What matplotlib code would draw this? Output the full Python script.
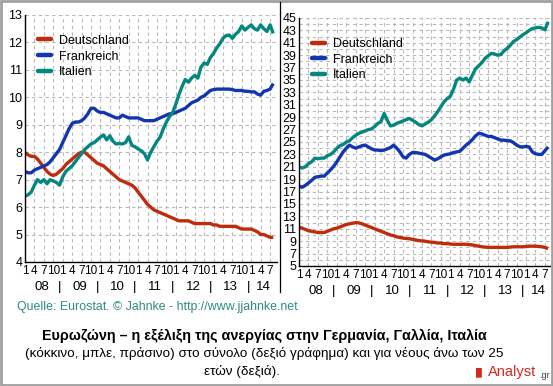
import matplotlib
matplotlib.use("Agg")
import matplotlib.pyplot as plt
from matplotlib.lines import Line2D
import matplotlib.transforms as mtransforms

plt.rcParams['font.family'] = ['Liberation Sans', 'DejaVu Sans']

series_names = ["Deutschland", "Frankreich", "Italien"]
colors = ["#BE2C0C", "#1236B0", "#03877E"]

# monthly values, Jan 2008 .. Aug 2014 (total unemployment, %)
de_total = [8.0, 7.9, 7.85, 7.85, 7.75, 7.6, 7.45, 7.3, 7.2, 7.15, 7.2, 7.3,
            7.4, 7.55, 7.65, 7.75, 7.85, 7.95, 8.0, 8.0, 7.9, 7.8, 7.7, 7.6,
            7.55, 7.5, 7.4, 7.3, 7.2, 7.1, 7.0, 6.95, 6.9, 6.85, 6.8, 6.7,
            6.55, 6.4, 6.25, 6.1, 6.0, 5.9, 5.85, 5.8, 5.75, 5.7, 5.65, 5.6,
            5.55, 5.5, 5.5, 5.5, 5.5, 5.45, 5.4, 5.4, 5.4, 5.4, 5.4, 5.4,
            5.35, 5.35, 5.3, 5.3, 5.3, 5.3, 5.3, 5.3, 5.25, 5.2, 5.2, 5.2,
            5.2, 5.15, 5.1, 5.0, 5.0, 4.95, 4.9, 4.9]
fr_total = [7.3, 7.25, 7.25, 7.35, 7.4, 7.45, 7.5, 7.55, 7.65, 7.8, 7.95, 8.1,
            8.35, 8.6, 8.85, 9.05, 9.1, 9.1, 9.15, 9.25, 9.4, 9.6, 9.6, 9.5,
            9.45, 9.45, 9.4, 9.35, 9.3, 9.25, 9.25, 9.35, 9.3, 9.25, 9.25, 9.25,
            9.25, 9.2, 9.15, 9.15, 9.15, 9.15, 9.2, 9.25, 9.3, 9.35, 9.4, 9.4,
            9.45, 9.5, 9.55, 9.6, 9.7, 9.8, 9.85, 9.9, 10.0, 10.05, 10.15, 10.25,
            10.28, 10.3, 10.3, 10.3, 10.3, 10.3, 10.28, 10.25, 10.25, 10.25, 10.22, 10.22,
            10.2, 10.2, 10.12, 10.08, 10.22, 10.25, 10.3, 10.5]
it_total = [6.4, 6.45, 6.55, 6.8, 7.0, 6.9, 7.0, 6.85, 7.0, 6.95, 6.9, 6.8,
            7.1, 7.3, 7.4, 7.5, 7.65, 7.8, 7.95, 8.1, 8.2, 8.3, 8.35, 8.45,
            8.55, 8.63, 8.45, 8.6, 8.4, 8.3, 8.32, 8.3, 8.35, 8.56, 8.25, 8.2,
            8.12, 8.05, 7.95, 7.72, 8.0, 8.2, 8.4, 8.55, 8.85, 9.1, 9.3, 9.45,
            9.75, 10.1, 10.4, 10.65, 10.55, 10.7, 10.8, 10.7, 11.1, 11.25, 11.2, 11.45,
            11.6, 11.8, 11.95, 12.15, 12.25, 12.27, 12.15, 12.3, 12.4, 12.6, 12.45, 12.55,
            12.64, 12.5, 12.45, 12.64, 12.5, 12.4, 12.64, 12.33]

# youth unemployment, %
de_youth = [11.3, 11.1, 10.9, 10.7, 10.6, 10.5, 10.4, 10.4, 10.4, 10.6, 10.8, 11.0,
            11.1, 11.3, 11.5, 11.7, 11.8, 11.9, 12.0, 11.95, 11.8, 11.6, 11.4, 11.2,
            11.0, 10.8, 10.6, 10.4, 10.2, 10.0, 9.9, 9.7, 9.6, 9.5, 9.45, 9.4,
            9.3, 9.2, 9.1, 9.05, 9.0, 8.9, 8.85, 8.8, 8.7, 8.7, 8.6, 8.6,
            8.55, 8.5, 8.5, 8.5, 8.5, 8.5, 8.45, 8.4, 8.3, 8.2, 8.1, 8.05,
            8.0, 8.0, 8.0, 8.0, 8.0, 8.0, 8.0, 8.05, 8.1, 8.1, 8.1, 8.1,
            8.15, 8.2, 8.2, 8.2, 8.15, 8.1, 8.0, 7.8]
fr_youth = [17.9, 17.7, 18.0, 18.4, 18.8, 19.3, 19.4, 19.5, 19.5, 20.0, 20.5, 21.1,
            21.8, 22.6, 23.4, 24.0, 24.5, 24.2, 24.0, 24.2, 24.4, 24.5, 24.2, 23.9,
            23.7, 23.7, 23.6, 23.7, 23.9, 24.1, 24.5, 24.0, 23.4, 22.6, 22.4, 23.0,
            23.3, 23.3, 23.2, 23.1, 23.0, 22.7, 22.4, 22.1, 22.3, 22.6, 22.9, 23.0,
            23.1, 23.3, 23.4, 23.5, 24.0, 24.5, 24.9, 25.4, 26.0, 26.4, 26.3, 26.1,
            25.9, 25.9, 25.7, 25.5, 25.3, 25.3, 25.2, 25.2, 24.9, 24.5, 24.25, 24.2,
            24.3, 24.2, 23.4, 23.1, 23.0, 23.0, 23.6, 24.2]
it_youth = [21.0, 20.8, 21.0, 21.5, 21.8, 22.4, 22.3, 22.4, 22.4, 22.8, 23.0, 23.4,
            24.0, 24.4, 24.6, 25.0, 25.2, 25.7, 26.1, 26.4, 26.6, 26.8, 27.0, 27.1,
            27.5, 28.0, 28.3, 29.6, 28.5, 27.6, 27.7, 28.0, 28.2, 28.4, 28.6, 28.8,
            28.5, 28.2, 27.8, 27.6, 27.9, 28.2, 28.6, 29.2, 29.9, 30.7, 31.5, 32.0,
            32.4, 33.5, 35.0, 35.3, 35.0, 35.3, 34.7, 35.8, 36.8, 37.3, 37.8, 38.5,
            38.9, 39.3, 39.2, 39.0, 39.1, 39.7, 40.1, 40.6, 41.2, 41.5, 41.9, 42.3,
            42.6, 43.0, 43.3, 43.4, 43.5, 43.4, 43.1, 44.4]

month_labels = ["1", "4", "7", "10"]
year_labels = ["08", "09", "10", "11", "12", "13", "14"]

months = list(range(len(de_total)))

W, H = 553, 386
fig = plt.figure(figsize=(W / 100, H / 100), dpi=100)
fig.patch.set_facecolor("white")

def box(l, t, r, b):
    return [l / W, 1 - b / H, (r - l) / W, (b - t) / H]

ax1 = fig.add_axes(box(25, 15, 277, 262))
ax2 = fig.add_axes(box(299, 18, 550, 266))

grid_color = "#B8B8B8"

def style(ax, ylim, major, minor, xmax):
    ax.set_xlim(0, xmax)
    ax.set_ylim(*ylim)
    for s in ["top", "right"]:
        ax.spines[s].set_visible(False)
    for s in ["left", "bottom"]:
        ax.spines[s].set_color("black")
        ax.spines[s].set_linewidth(1.0)
    ax.set_yticks(major)
    ax.set_yticks(minor, minor=True)
    ax.set_yticklabels([str(v) for v in major], fontsize=9)
    xt = list(range(0, 79, 3))
    ax.set_xticks(xt)
    ax.set_xticklabels([month_labels[(i // 3) % 4] for i in xt], fontsize=8.5)
    ax.tick_params(axis="both", which="both", length=0)
    ax.tick_params(axis="y", pad=2)
    ax.tick_params(axis="x", pad=2.5)
    ax.grid(True, which="both", axis="y", color=grid_color, linestyle=(0, (3, 3)), linewidth=0.8)
    ax.grid(True, which="major", axis="x", color=grid_color, linestyle=(0, (3, 3)), linewidth=0.8)
    ax.set_axisbelow(True)
    tr = mtransforms.blended_transform_factory(ax.transData, ax.transAxes)
    for k, yl in enumerate(year_labels):
        xc = 12 * k + 5.5 if k < 6 else 75.8
        ax.text(xc, -0.1, yl, transform=tr, ha="center", va="center", fontsize=9.5)
        if k > 0:
            ax.text(12 * k - 1, -0.1, "|", transform=tr, ha="center", va="center", fontsize=9.5)

style(ax1, (4, 13), list(range(4, 14)), list(range(4, 14)), 80.2)
style(ax2, (5, 45), list(range(5, 46, 2)), list(range(5, 46)), 79.6)

for ax, data in ((ax1, (de_total, fr_total, it_total)), (ax2, (de_youth, fr_youth, it_youth))):
    for vals, c, n in zip(data, colors, series_names):
        ax.plot(months, vals, color=c, linewidth=2.4, solid_capstyle="butt", label=n)
    handles = [Line2D([0], [0], color=c, linewidth=3.2, solid_capstyle="round") for c in colors]
    ax.legend(handles, series_names, loc="upper left", bbox_to_anchor=(0.02, 0.95),
              frameon=False, fontsize=9, handlelength=1.1, handletextpad=0.6,
              labelspacing=0.3, borderaxespad=0.2)

# separator line between panels and outer border
fig.add_artist(Line2D([280 / W, 280 / W], [1 - 2 / H, 1 - 292 / H], color="black", linewidth=0.9))
fig.add_artist(plt.Rectangle((0.001, 0.002), 0.997, 0.996, fill=False, edgecolor="#A0A0A0",
                             linewidth=2, transform=fig.transFigure))

fig.text(17 / W, 1 - 307 / H, "Quelle: Eurostat. \u00a9 Jahnke - http://www.jjahnke.net",
         color="#2E8B82", fontsize=8.9, ha="left", va="center")
fig.text(264 / W, 1 - 336 / H,
         "Ευρωζώνη – η εξέλιξη της ανεργίας στην Γερμανία, Γαλλία, Ιταλία",
         fontsize=10.3, fontweight="bold", ha="center", va="center")
fig.text(264 / W, 1 - 353.5 / H,
         "(κόκκινο, μπλε, πράσινο) στο σύνολο (δεξιό γράφημα) και για νέους άνω των 25",
         fontsize=9.7, ha="center", va="center")
fig.text(242 / W, 1 - 371 / H, "ετών (δεξιά).", fontsize=9.7, ha="center", va="center")

fig.text(488 / W, 1 - 372 / H, "Analyst", color="#D42A1E", fontsize=10.5, ha="left", va="center")
fig.text(539 / W, 1 - 375 / H, ".gr", color="#404040", fontsize=6.5, ha="left", va="center")
fig.text(479 / W, 1 - 372 / H, "\u2590\u258c", color="#D42A1E", fontsize=6, ha="center", va="center")

fig.savefig("out.png", dpi=100)
